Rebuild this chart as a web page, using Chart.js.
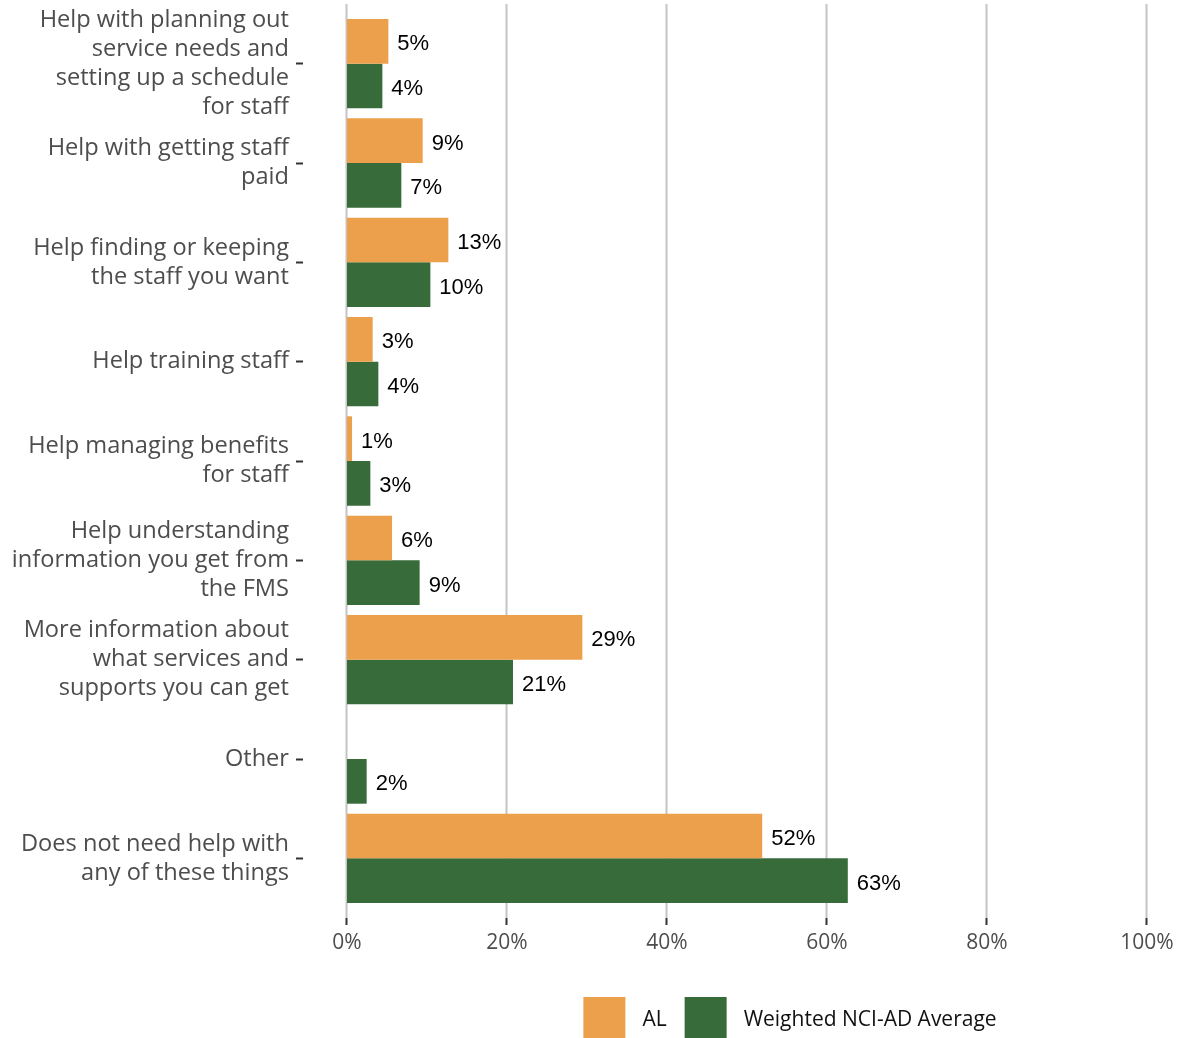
<!DOCTYPE html>
<html>
<head>
<meta charset="utf-8">
<script src="https://cdn.jsdelivr.net/npm/chart.js@4.4.1/dist/chart.umd.min.js"></script>
<style>
  html, body { margin: 0; padding: 0; background: #fff; }
  #wrap { width: 1177px; height: 1038px; }
</style>
</head>
<body>
<div id="wrap"><canvas id="chart" width="1177" height="1038"></canvas></div>
<script>
const categories = [
  ["Help with planning out", "service needs and", "setting up a schedule", "for staff"],
  ["Help with getting staff", "paid"],
  ["Help finding or keeping", "the staff you want"],
  "Help training staff",
  ["Help managing benefits", "for staff"],
  ["Help understanding", "information you get from", "the FMS"],
  ["More information about", "what services and", "supports you can get"],
  "Other",
  ["Does not need help with", "any of these things"]
];
const alValues = [5.17, 9.46, 12.67, 3.21, 0.63, 5.63, 29.42, null, 51.9];
const nciValues = [4.42, 6.79, 10.42, 3.92, 2.92, 9.08, 20.75, 2.46, 62.6];
const xTicks = [0, 20, 40, 60, 80, 100];
const seriesNames = ["AL", "Weighted NCI-AD Average"];
const seriesColors = ["#ECA04C", "#386B3A"];

const labelGray = "#4d4d4d";

// no extra room for half-labels at the scale ends
function noScalePadding(s) {
  s.paddingTop = 0; s.paddingBottom = 0; s.paddingLeft = 0; s.paddingRight = 0;
}

// panel grid lines, running a bit past the bar area like the original
const panelGrid = {
  id: "panelGrid",
  beforeDatasetsDraw(chart) {
    const { ctx, chartArea: { top, bottom } } = chart;
    const x = chart.scales.x;
    ctx.save();
    ctx.lineWidth = 2;
    xTicks.forEach(v => {
      const px = Math.round(x.getPixelForValue(v)) - 0.5;
      ctx.strokeStyle = "#c4c4c4";
      ctx.beginPath();
      ctx.moveTo(px, top - 10);
      ctx.lineTo(px, bottom + 10);
      ctx.stroke();
      ctx.strokeStyle = "#333";
      ctx.beginPath();
      ctx.moveTo(px, bottom + 10);
      ctx.lineTo(px, bottom + 17);
      ctx.stroke();
    });
    ctx.restore();
  }
};

const barLabels = {
  id: "barLabels",
  afterDatasetsDraw(chart) {
    const { ctx } = chart;
    ctx.save();
    ctx.font = "22px 'Liberation Sans', Arial, sans-serif";
    ctx.fillStyle = "#000";
    ctx.textBaseline = "middle";
    ctx.textAlign = "left";
    chart.data.datasets.forEach((ds, i) => {
      chart.getDatasetMeta(i).data.forEach((el, j) => {
        const v = ds.data[j];
        if (v == null) return;
        ctx.fillText(Math.round(v) + "%", el.x + 9, el.y + 3);
      });
    });
    ctx.restore();
  }
};

const bottomLegend = {
  id: "bottomLegend",
  afterDraw(chart) {
    const { ctx, chartArea } = chart;
    const box = 42, boxH = 41, gap = 17, itemGap = 18;
    ctx.save();
    ctx.font = "21px 'Open Sans', sans-serif";
    const widths = seriesNames.map(n => ctx.measureText(n).width);
    let total = 0;
    widths.forEach((w, i) => { total += box + gap + w + (i < widths.length - 1 ? itemGap : 0); });
    let x = (chartArea.left + chartArea.right) / 2 + 50 - total / 2;
    const y = chart.height - boxH;
    ctx.textBaseline = "middle";
    seriesNames.forEach((n, i) => {
      ctx.fillStyle = seriesColors[i];
      ctx.fillRect(x, y, box, boxH);
      ctx.fillStyle = "#111";
      ctx.fillText(n, x + box + gap, y + boxH / 2 + 3);
      x += box + gap + widths[i] + itemGap;
    });
    ctx.restore();
  }
};

new Chart(document.getElementById("chart").getContext("2d"), {
  type: "bar",
  data: {
    labels: categories,
    datasets: [
      { label: seriesNames[0], data: alValues, backgroundColor: seriesColors[0], borderWidth: 0,
        categoryPercentage: 0.9, barPercentage: 1.0 },
      { label: seriesNames[1], data: nciValues, backgroundColor: seriesColors[1], borderWidth: 0,
        categoryPercentage: 0.9, barPercentage: 1.0 }
    ]
  },
  options: {
    indexAxis: "y",
    responsive: false,
    animation: false,
    devicePixelRatio: 1,
    layout: { padding: { top: 14, right: 0, bottom: 60, left: 0 } },
    plugins: {
      legend: { display: false },
      tooltip: { enabled: false }
    },
    scales: {
      x: {
        type: "linear",
        min: -5.5,
        max: 103.75,
        afterBuildTicks: (s) => { s.ticks = xTicks.map(v => ({ value: v })); },
        afterFit: (s) => { s.height = 70; noScalePadding(s); },
        grid: { display: false },
        border: { display: false },
        ticks: {
          padding: 14,
          autoSkip: false,
          maxRotation: 0,
          color: labelGray,
          font: { family: "'Open Sans', sans-serif", size: 21 },
          callback: (v) => v + "%"
        }
      },
      y: {
        afterFit: (s) => { s.width = 303; noScalePadding(s); },
        grid: {
          display: true, offset: false, drawOnChartArea: false,
          drawTicks: true, tickLength: 7, tickColor: "#333", tickWidth: 2
        },
        border: { display: false },
        ticks: {
          padding: 7,
          autoSkip: false,
          color: labelGray,
          font: { family: "'Open Sans', sans-serif", size: 23.6, lineHeight: 29 / 23.6 }
        }
      }
    }
  },
  plugins: [panelGrid, barLabels, bottomLegend]
});
</script>
</body>
</html>
